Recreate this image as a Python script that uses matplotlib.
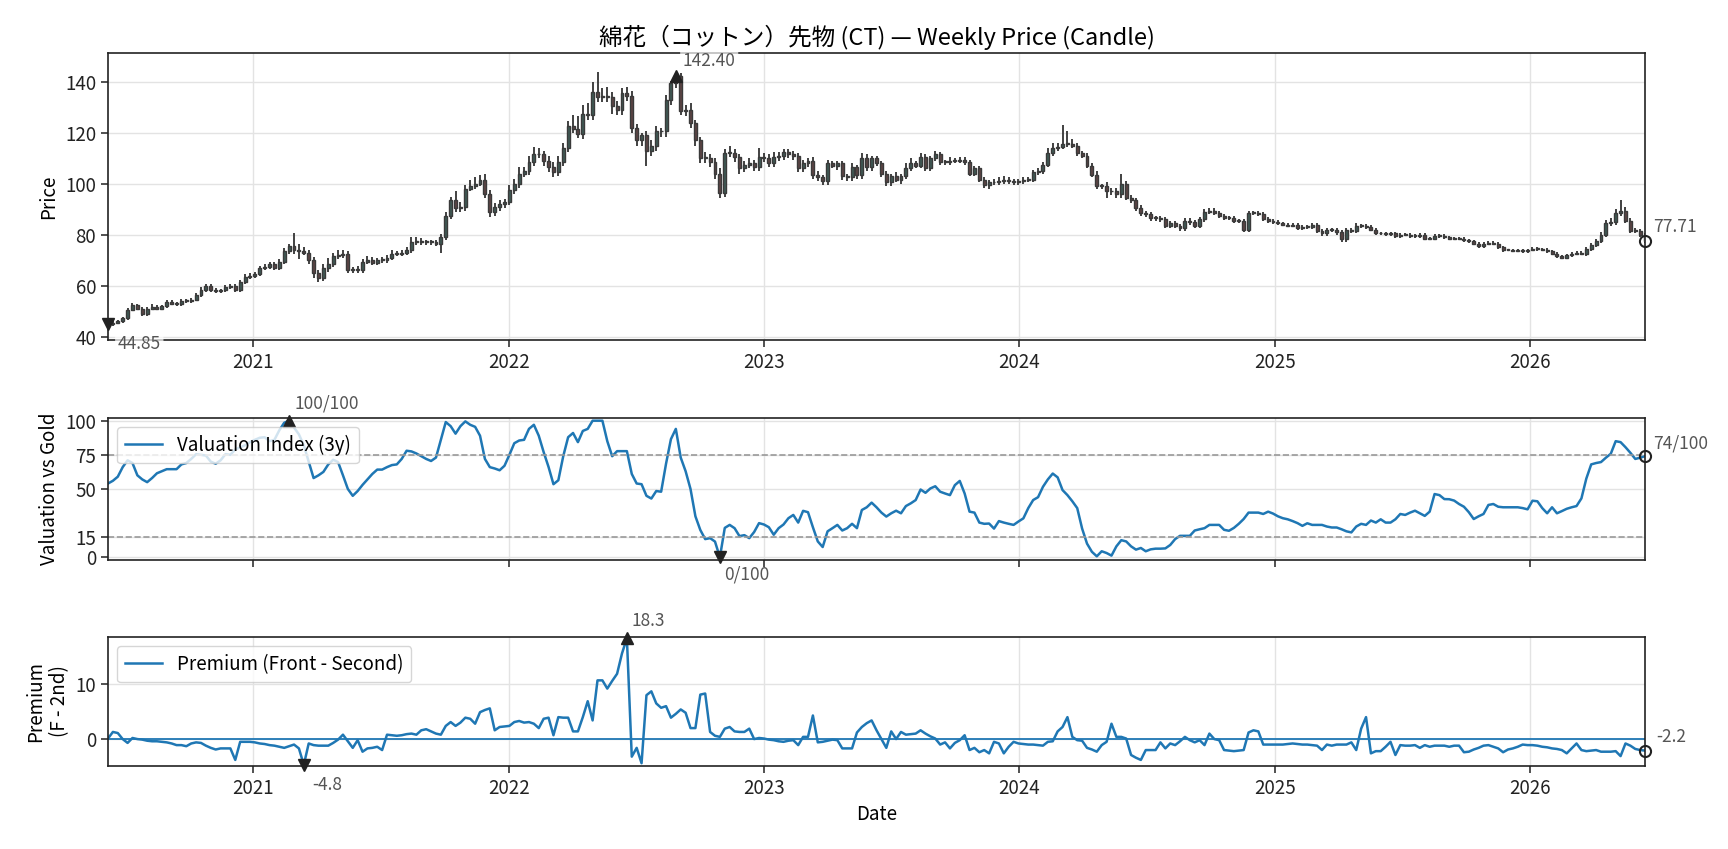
import numpy as np
import pandas as pd
import matplotlib
matplotlib.use("Agg")
import matplotlib.pyplot as plt
import matplotlib.dates as mdates
from matplotlib.patches import Rectangle

plt.rcParams['font.family'] = ['Noto Sans CJK JP', 'DejaVu Sans']

# ---------------- data ----------------
start_date = "2020-06-07"

close = [
    44.85, 45.5, 46.0, 47.2, 50.5, 52.5, 51.0, 48.8, 51.0, 51.5,
    51.0, 52.0, 53.5, 53.0, 52.8, 54.0, 54.0, 54.5, 56.5, 58.5,
    59.8, 58.5, 58.0, 58.2, 59.5, 59.8, 58.5, 61.5, 63.5, 64.0,
    64.5, 67.0, 67.5, 68.5, 67.0, 69.5, 73.5, 75.5, 74.0, 73.5,
    73.0, 70.0, 65.0, 63.0, 67.0, 68.5, 71.5, 72.0, 72.5, 66.0,
    66.5, 66.0, 69.5, 70.0, 69.0, 70.0, 70.0, 71.0, 72.5, 72.5,
    73.0, 74.0, 77.0, 77.5, 77.0, 77.0, 77.0, 76.5, 79.0, 87.5,
    93.5, 90.5, 91.0, 98.0, 99.0, 100.0, 101.5, 96.0, 89.0, 91.0,
    92.0, 93.0, 97.5, 100.0, 104.0, 105.0, 108.5, 111.5, 111.5, 109.0,
    106.5, 104.5, 108.5, 114.0, 122.5, 121.5, 119.5, 127.5, 127.0, 136.0,
    134.0, 134.5, 134.0, 130.5, 129.0, 135.5, 134.5, 122.0, 117.0, 119.0,
    113.0, 115.0, 120.5, 120.5, 133.0, 139.5, 142.4, 128.5, 129.0, 124.0,
    117.0, 110.0, 110.0, 108.5, 104.0, 96.5, 112.0, 112.0, 110.5, 106.0,
    107.5, 108.0, 106.5, 110.5, 110.0, 108.0, 110.5, 111.0, 112.5, 111.5,
    111.0, 106.0, 108.0, 109.0, 103.5, 102.5, 101.0, 108.0, 107.0, 108.0,
    103.0, 102.5, 106.5, 103.5, 110.0, 106.5, 110.0, 108.0, 104.0, 100.5,
    103.0, 101.5, 103.0, 106.0, 108.0, 107.0, 110.5, 106.0, 110.0, 111.5,
    108.5, 108.5, 109.0, 109.0, 109.5, 108.5, 104.0, 106.0, 101.5, 99.5,
    100.5, 100.5, 101.0, 101.5, 101.0, 100.5, 101.0, 101.5, 101.5, 104.5,
    105.0, 107.5, 112.0, 114.0, 114.5, 115.5, 115.5, 115.0, 112.0, 111.0,
    107.0, 103.5, 99.0, 99.0, 97.0, 97.0, 96.0, 100.0, 94.5, 93.5,
    90.5, 88.5, 88.0, 86.5, 86.5, 86.0, 83.5, 84.5, 83.5, 82.5,
    85.5, 85.0, 83.5, 86.0, 89.0, 89.5, 88.5, 87.5, 86.5, 86.5,
    85.5, 85.5, 82.0, 88.5, 88.5, 88.0, 86.0, 85.5, 85.0, 84.5,
    84.0, 83.5, 84.0, 82.5, 83.0, 83.0, 84.0, 81.5, 80.5, 82.0,
    82.0, 81.0, 78.5, 82.0, 81.5, 83.5, 83.5, 83.0, 82.0, 80.5,
    80.5, 80.3, 80.5, 79.5, 80.0, 80.0, 79.5, 79.5, 80.0, 78.5,
    78.5, 79.5, 79.5, 79.0, 78.5, 78.5, 78.5, 77.8, 77.5, 76.5,
    75.5, 76.5, 76.8, 76.5, 75.0, 74.0, 74.0, 73.8, 73.8, 73.5,
    74.0, 74.5, 74.3, 74.2, 73.5, 72.5, 71.5, 71.0, 72.0, 72.5,
    73.0, 72.5, 74.5, 76.0, 77.5, 80.0, 84.5, 85.0, 88.5, 89.5,
    85.5, 81.5, 81.5, 80.0, 77.71,
]
first_open = 45.2

wick_up = [
    0.4, 0.5, 0.6, 0.5, 0.8, 0.6, 0.5, 0.8, 0.6, 1.2,
    0.8, 0.6, 0.8, 0.9, 0.6, 0.7, 0.8, 0.6, 0.7, 0.9,
    1.0, 0.8, 0.7, 0.6, 0.8, 0.7, 0.9, 0.8, 1.0, 0.8,
    1.0, 0.9, 1.2, 0.9, 0.8, 1.0, 1.2, 1.0, 5.0, 2.5,
    1.5, 1.0, 1.2, 1.0, 1.5, 2.5, 1.5, 2.0, 1.5, 1.2,
    0.8, 1.2, 1.0, 1.5, 1.2, 1.0, 1.2, 1.0, 1.5, 1.2,
    1.0, 1.2, 2.0, 1.5, 1.2, 1.0, 1.0, 0.8, 1.2, 1.5,
    1.5, 3.5, 2.0, 1.5, 2.5, 2.5, 2.0, 2.5, 1.5, 1.5,
    1.5, 1.2, 2.0, 2.0, 2.5, 1.5, 2.5, 3.0, 2.5, 1.5,
    2.0, 2.0, 2.5, 2.0, 2.0, 4.5, 5.0, 3.5, 4.0, 4.0,
    8.0, 3.0, 3.5, 2.0, 2.0, 2.0, 2.5, 2.0, 1.5, 1.0,
    1.5, 2.0, 2.0, 1.5, 2.0, 1.0, 1.0, 1.0, 2.0, 2.5,
    1.0, 1.5, 2.5, 1.5, 1.5, 2.0, 1.5, 3.0, 1.5, 1.0,
    1.5, 2.0, 1.5, 3.5, 1.5, 1.5, 2.0, 1.5, 1.0, 1.0,
    1.5, 1.0, 1.5, 1.0, 1.5, 1.5, 1.0, 1.5, 1.0, 1.0,
    1.0, 1.0, 1.5, 1.0, 2.0, 1.5, 1.0, 1.0, 1.0, 1.0,
    1.0, 1.5, 1.0, 2.0, 2.0, 1.0, 1.5, 1.0, 1.0, 1.5,
    1.0, 1.0, 1.5, 1.0, 1.0, 1.0, 1.0, 1.0, 1.0, 1.0,
    1.0, 1.5, 1.5, 1.5, 1.0, 1.0, 1.0, 1.0, 1.0, 1.0,
    1.0, 1.0, 2.0, 2.0, 1.5, 7.5, 5.0, 2.0, 1.0, 1.0,
    1.0, 1.0, 1.5, 1.0, 1.5, 1.5, 1.5, 4.0, 1.0, 1.0,
    1.0, 1.0, 1.0, 1.0, 1.0, 1.0, 1.0, 1.0, 1.0, 0.8,
    1.0, 1.0, 0.8, 1.0, 1.0, 0.8, 0.8, 0.8, 0.8, 0.8,
    0.8, 0.8, 0.8, 1.0, 0.8, 0.8, 0.8, 0.8, 0.8, 0.8,
    0.6, 0.6, 0.6, 0.8, 0.8, 0.8, 0.8, 0.8, 0.8, 0.8,
    0.8, 0.8, 0.8, 0.8, 0.8, 1.0, 0.8, 0.8, 0.8, 0.6,
    0.6, 0.6, 0.6, 0.6, 0.6, 0.6, 0.6, 0.6, 0.6, 0.6,
    0.6, 0.6, 0.6, 0.6, 0.6, 0.6, 0.6, 0.6, 0.6, 0.6,
    0.6, 0.6, 0.6, 0.6, 0.6, 0.6, 0.5, 0.5, 0.5, 0.5,
    0.5, 0.5, 0.5, 0.5, 0.5, 0.5, 0.6, 0.6, 0.6, 0.6,
    0.6, 0.6, 0.8, 0.8, 1.0, 1.0, 1.2, 1.5, 1.5, 4.0,
    1.5, 1.0, 1.0, 0.8, 0.8,
]

wick_dn = [
    0.5, 0.5, 0.5, 0.5, 0.6, 0.6, 0.6, 0.8, 0.6, 0.6,
    0.6, 0.6, 0.6, 0.6, 0.8, 0.6, 0.6, 0.6, 0.6, 0.8,
    0.8, 0.8, 0.8, 0.8, 0.8, 0.8, 0.8, 0.8, 0.8, 0.8,
    0.8, 0.8, 0.8, 0.8, 0.8, 0.8, 1.0, 1.0, 1.5, 3.0,
    1.0, 1.5, 2.0, 1.5, 1.2, 1.5, 1.0, 1.0, 1.0, 1.0,
    1.0, 1.0, 1.0, 1.0, 1.0, 1.0, 1.0, 1.0, 1.0, 1.0,
    1.0, 1.0, 1.0, 1.0, 1.0, 1.0, 1.0, 1.0, 3.5, 1.0,
    1.5, 1.5, 1.5, 1.5, 1.0, 1.0, 1.0, 1.5, 2.0, 1.5,
    1.5, 1.5, 1.5, 1.5, 1.5, 1.5, 1.5, 1.5, 1.5, 2.0,
    2.0, 2.0, 1.5, 1.5, 1.5, 1.5, 1.5, 2.0, 2.0, 2.0,
    2.0, 2.0, 2.0, 3.0, 2.0, 2.0, 2.0, 2.0, 2.0, 2.0,
    6.0, 2.0, 2.0, 2.0, 2.0, 2.0, 2.0, 1.5, 2.0, 2.0,
    2.0, 2.0, 2.0, 2.0, 2.0, 2.0, 1.5, 1.5, 2.0, 2.0,
    1.5, 1.5, 1.5, 1.5, 1.5, 1.5, 1.5, 1.5, 1.5, 1.5,
    1.5, 1.5, 1.5, 1.5, 1.5, 1.5, 1.5, 1.5, 1.0, 1.5,
    1.5, 1.5, 1.5, 1.5, 1.5, 1.5, 1.5, 1.0, 1.5, 1.5,
    1.5, 1.0, 1.5, 1.0, 1.0, 1.0, 1.0, 1.0, 1.0, 1.0,
    1.0, 1.0, 1.0, 1.0, 1.0, 1.0, 1.0, 1.0, 1.0, 1.0,
    1.5, 1.0, 1.0, 1.0, 1.0, 1.0, 1.0, 1.0, 1.0, 1.0,
    1.0, 1.0, 1.0, 1.0, 1.0, 1.0, 1.0, 1.0, 1.0, 1.0,
    1.0, 1.0, 1.0, 1.0, 2.5, 1.5, 1.5, 1.5, 1.0, 1.0,
    1.0, 1.0, 1.0, 1.0, 1.0, 1.0, 1.0, 1.0, 1.0, 1.0,
    1.0, 1.0, 1.0, 1.0, 1.0, 0.8, 0.8, 0.8, 0.8, 0.8,
    0.8, 0.8, 1.0, 1.0, 0.8, 0.8, 0.8, 0.8, 0.8, 0.8,
    0.6, 0.6, 0.6, 0.8, 0.8, 0.8, 0.8, 0.8, 0.8, 0.8,
    0.8, 1.0, 1.5, 1.5, 0.8, 0.8, 0.8, 0.8, 0.6, 0.6,
    0.6, 0.6, 0.6, 0.6, 0.6, 0.6, 0.6, 0.6, 0.6, 0.6,
    0.6, 0.6, 0.6, 0.6, 0.6, 0.6, 0.6, 0.6, 0.6, 0.6,
    0.6, 0.6, 0.6, 0.6, 0.6, 0.6, 0.5, 0.5, 0.5, 0.5,
    0.5, 0.5, 0.5, 0.5, 0.5, 0.5, 0.6, 0.6, 0.6, 0.6,
    0.6, 0.6, 0.8, 0.8, 0.8, 0.8, 0.8, 1.0, 1.0, 1.0,
    1.0, 1.0, 1.0, 0.8, 0.8,
]

valuation = [
    54, 56, 59, 66, 71, 69, 60, 57, 55, 58,
    61.5, 63, 64.5, 64.5, 64.5, 68, 69, 72, 75.5, 75,
    74.5, 70, 68.5, 71, 75.5, 75, 79, 80.5, 82, 84.3,
    86, 87.5, 87.9, 85, 86, 93, 98.5, 100, 95, 90,
    82, 70, 58, 60, 62.5, 68, 71.4, 69.7, 60, 50,
    45, 48.5, 53, 57, 61, 64.2, 64.2, 66, 67.5, 68,
    72, 78, 77.5, 76, 74, 72, 70.5, 73, 86, 99,
    96, 90.5, 96, 99.5, 97, 95.5, 89, 72, 66, 65,
    63.7, 67, 75, 83.5, 85.5, 86, 94, 97, 89, 77,
    66.1, 53.5, 56.4, 74, 87.9, 91, 84.3, 92.5, 94, 100,
    100, 100, 85, 74, 77.7, 77.7, 77.7, 61, 54, 53.5,
    45, 43, 48.5, 48, 68.5, 86.5, 94, 73, 63, 50,
    30, 20, 13.3, 14, 11.5, 0, 21.5, 23.7, 21.3, 15.5,
    16.2, 14, 18.5, 25, 24, 22, 16.5, 21.3, 24, 28.6,
    31, 25.4, 34, 33, 22, 11.6, 7.5, 19, 21.3, 23.7,
    19.6, 21.3, 24.5, 21.3, 34.6, 36.6, 40, 36.6, 32.7, 29.8,
    32.2, 34.1, 32.2, 37.5, 39.5, 41.9, 49.6, 47.2, 50.4, 52,
    48, 46.7, 45.5, 52.8, 55.9, 46.7, 33.4, 32.7, 25.4, 24.5,
    24.7, 21, 26.5, 25.4, 24.5, 23.7, 26.2, 28.5, 36, 41.9,
    44, 51.6, 57, 61.3, 58.5, 49.2, 45.5, 41, 36, 21,
    10, 4, 0.7, 4.4, 3.1, 1.2, 8, 12.5, 11.6, 8,
    5.6, 6.8, 4.4, 5.8, 6.3, 6.3, 6.5, 9, 13.3, 15.7,
    15.7, 15.7, 19.6, 20.5, 21.3, 23.7, 23.7, 23.7, 20.1, 19.4,
    21.5, 24.5, 28, 32.7, 32.7, 32.7, 31.7, 33.4, 32, 30,
    28.6, 27.8, 26.5, 25, 23, 24.9, 23.7, 23.7, 23.7, 22.5,
    21.8, 21.8, 20.5, 19, 18.2, 22.5, 24.5, 23.7, 26.9, 25.4,
    27.8, 25.4, 25.4, 27.8, 31.7, 31, 32.7, 34.1, 32.2, 30.3,
    33.4, 46.3, 45.5, 42.6, 42.5, 41.5, 39, 37, 33, 28,
    30, 31.7, 38.3, 39, 37, 36.6, 36.6, 36.6, 36.6, 36,
    35.1, 41.4, 41, 36, 32.2, 36.6, 32.2, 33.8, 35.5, 36.6,
    37.5, 43.1, 57.6, 68, 69, 69.7, 72.9, 75.8, 85, 84.3,
    80.6, 76.5, 72, 72.9, 74,
]

premium = [
    0.0, 1.2, 1.0, -0.1, -0.8, 0.1, -0.1, -0.2, -0.4, -0.5,
    -0.5, -0.6, -0.7, -0.9, -1.2, -1.2, -1.4, -0.9, -0.7, -0.8,
    -1.3, -1.7, -2.0, -1.8, -1.8, -1.8, -3.9, -0.6, -0.6, -0.6,
    -0.7, -0.9, -1.0, -1.2, -1.3, -1.5, -1.7, -1.4, -1.1, -1.8,
    -4.8, -0.9, -1.2, -1.3, -1.3, -1.3, -0.8, -0.2, 0.7, -0.5,
    -1.7, -0.3, -2.4, -1.8, -1.7, -1.5, -2.1, 0.7, 0.6, 0.5,
    0.6, 0.8, 0.9, 0.7, 1.5, 1.7, 1.3, 0.9, 0.7, 2.3,
    3.0, 2.3, 2.9, 3.8, 3.6, 2.7, 4.8, 5.2, 5.5, 1.5,
    2.1, 2.2, 2.3, 3.0, 3.2, 2.9, 3.0, 2.7, 1.9, 3.6,
    3.8, 0.6, 3.9, 3.8, 3.8, 1.3, 1.3, 3.9, 6.8, 3.3,
    10.6, 10.6, 9.1, 10.5, 11.8, 15.5, 18.3, -3.3, -1.7, -4.5,
    7.9, 8.6, 6.4, 5.6, 5.9, 3.8, 4.5, 5.3, 4.7, 1.9,
    1.9, 8.0, 8.2, 1.2, 0.5, 0.3, 1.8, 2.1, 1.3, 1.2,
    1.2, 1.8, -0.1, 0.1, 0.0, -0.2, -0.3, -0.5, -0.6, -0.4,
    -0.3, -1.2, 0.3, 0.3, 4.2, -0.7, -0.6, -0.4, -0.2, -0.3,
    -1.8, -1.8, -1.8, 1.1, 2.1, 2.8, 3.3, 1.5, -0.1, -1.7,
    1.3, -0.1, 1.2, 0.7, 0.8, 0.9, 1.5, 0.9, 0.4, 0.0,
    -1.1, -0.7, -1.8, -0.8, -0.3, 0.6, -2.1, -1.7, -2.5, -2.1,
    -2.7, -0.6, -0.9, -2.7, -1.5, -0.6, -0.9, -1.0, -1.1, -1.1,
    -1.2, -1.3, -0.6, -0.5, 1.3, 2.1, 3.9, 0.3, -0.3, -0.4,
    -1.7, -2.0, -2.4, -1.2, -0.6, 2.7, 0.3, 0.3, 0.0, -3.0,
    -3.5, -3.9, -2.1, -2.1, -2.1, -0.7, -1.8, -0.9, -1.2, -0.5,
    0.3, -0.3, -0.7, -0.3, -1.2, 0.9, -0.1, -0.3, -2.1, -2.2,
    -2.3, -2.2, -2.1, 1.1, 1.5, 1.3, -1.1, -1.1, -1.1, -1.1,
    -1.1, -1.0, -0.9, -1.0, -1.1, -1.1, -1.2, -1.3, -2.1, -1.1,
    -1.3, -1.1, -1.1, -1.1, -0.7, -2.1, 1.8, 3.9, -2.7, -2.3,
    -2.3, -1.5, -0.6, -3.0, -1.2, -1.3, -1.3, -1.2, -1.7, -1.2,
    -1.5, -1.3, -1.3, -1.3, -1.5, -1.3, -1.3, -2.5, -2.4, -2.0,
    -1.7, -1.3, -1.2, -1.5, -1.8, -2.5, -2.0, -1.8, -1.5, -1.1,
    -1.2, -1.2, -1.3, -1.5, -1.6, -1.8, -1.9, -2.1, -2.7, -1.8,
    -0.9, -2.1, -2.3, -2.2, -2.1, -2.4, -2.4, -2.4, -2.3, -3.2,
    -0.9, -1.3, -1.9, -2.1, -2.2,
]

title = "綿花（コットン）先物 (CT) — Weekly Price (Candle)"

# ---------------- derived ----------------
n = len(close)
assert len(wick_up) == n and len(wick_dn) == n and len(valuation) == n and len(premium) == n
dates = pd.date_range(start_date, periods=n, freq="7D")
close_a = np.array(close, dtype=float)
open_a = np.concatenate([[first_open], close_a[:-1]])
high_a = np.maximum(open_a, close_a) + np.array(wick_up)
low_a = np.minimum(open_a, close_a) - np.array(wick_dn)
xd = mdates.date2num(dates)
val_a = np.array(valuation, dtype=float)
prem_a = np.array(premium, dtype=float)

# ---------------- figure ----------------
FS = 13.5
AFS = 12.5
fig = plt.figure(figsize=(17.28, 8.49), dpi=100)
L, W = 0.0625, 0.8895
ax1 = fig.add_axes([L, 0.5995, W, 0.3381])
ax2 = fig.add_axes([L, 0.3404, W, 0.1673], sharex=ax1)
ax3 = fig.add_axes([L, 0.0978, W, 0.1519], sharex=ax1)

GRID = "#e3e3e3"
TXT = "#555555"
for ax in (ax1, ax2, ax3):
    ax.grid(True, color=GRID, linewidth=1.0)
    ax.set_axisbelow(True)
    for s in ax.spines.values():
        s.set_color("#222222")
        s.set_linewidth(1.2)
    ax.tick_params(labelsize=FS, colors="#222222", length=5, width=1.1)
    ax.xaxis.set_major_locator(mdates.YearLocator())
    ax.xaxis.set_major_formatter(mdates.DateFormatter("%Y"))

# candles
bw = 4.2
for i in range(n):
    up = close_a[i] >= open_a[i]
    fc = "#3f5a55" if up else "#5c4444"
    ax1.vlines(xd[i], low_a[i], high_a[i], color="#333333", linewidth=1.3, zorder=2)
    lo = min(open_a[i], close_a[i])
    h = max(abs(close_a[i] - open_a[i]), 0.35)
    ax1.add_patch(Rectangle((xd[i] - bw / 2, lo), bw, h, facecolor=fc,
                            edgecolor="#3a3a3a", linewidth=1.0, zorder=3))

ax1.set_xlim(xd[0], xd[-1])
ax1.set_ylim(38.7, 151.3)
ax1.set_yticks([40, 60, 80, 100, 120, 140])
ax1.set_ylabel("Price", fontsize=FS)
ax1.set_title(title, fontsize=17)
ax1.tick_params(labelbottom=True)

imax = int(np.argmax(close_a)); imin = int(np.argmin(close_a))
bbox = dict(boxstyle="round,pad=0.15", fc="white", ec="none", alpha=0.7)
ax1.plot(xd[imax], close_a[imax], marker="^", color="#222222", markersize=8, zorder=5, clip_on=False)
ax1.annotate(f"{close_a[imax]:.2f}", (xd[imax], close_a[imax]), xytext=(5, 4),
             textcoords="offset points", fontsize=AFS, color=TXT, ha="left", va="bottom", bbox=bbox)
ax1.plot(xd[imin], close_a[imin], marker="v", color="#222222", markersize=8, zorder=5, clip_on=False)
ax1.annotate(f"{close_a[imin]:.2f}", (xd[imin], close_a[imin]), xytext=(7, -8),
             textcoords="offset points", fontsize=AFS, color=TXT, ha="left", va="top", bbox=bbox)
ax1.plot(xd[-1], close_a[-1], marker="o", mfc="none", mec="#222222", mew=1.5, markersize=8, zorder=5, clip_on=False)
ax1.annotate(f"{close_a[-1]:.2f}", (xd[-1], close_a[-1]), xytext=(6, 3),
             textcoords="offset points", fontsize=AFS, color=TXT, ha="left", va="bottom")

# valuation
ax2.plot(xd, val_a, color="#1f77b4", linewidth=1.8, label="Valuation Index (3y)")
ax2.axhline(75, color="#999999", linestyle="--", linewidth=1.2)
ax2.axhline(15, color="#999999", linestyle="--", linewidth=1.2)
ax2.set_ylim(-2, 102)
ax2.set_yticks([0, 15, 50, 75, 100])
ax2.set_ylabel("Valuation vs Gold", fontsize=FS)
ax2.tick_params(labelbottom=False)
vmax = int(np.argmax(val_a)); vmin = int(np.argmin(val_a))
ax2.plot(xd[vmax], val_a[vmax], marker="^", color="#222222", markersize=8, zorder=5, clip_on=False)
ax2.annotate(f"{val_a[vmax]:.0f}/100", (xd[vmax], val_a[vmax]), xytext=(4, 6),
             textcoords="offset points", fontsize=AFS, color=TXT, ha="left", va="bottom")
ax2.plot(xd[vmin], val_a[vmin], marker="v", color="#222222", markersize=8, zorder=5, clip_on=False)
ax2.annotate(f"{val_a[vmin]:.0f}/100", (xd[vmin], val_a[vmin]), xytext=(3, -6),
             textcoords="offset points", fontsize=AFS, color=TXT, ha="left", va="top")
ax2.plot(xd[-1], val_a[-1], marker="o", mfc="none", mec="#222222", mew=1.5, markersize=8, zorder=5, clip_on=False)
ax2.annotate(f"{val_a[-1]:.0f}/100", (xd[-1], val_a[-1]), xytext=(6, 3),
             textcoords="offset points", fontsize=AFS, color=TXT, ha="left", va="bottom")
ax2.legend(loc="upper left", fontsize=FS, framealpha=0.8)

# premium
ax3.plot(xd, prem_a, color="#1f77b4", linewidth=1.8, label="Premium (Front - Second)")
ax3.axhline(0, color="#1f77b4", linewidth=1.3)
ax3.set_ylim(-5.0, 18.5)
ax3.set_yticks([0, 10])
ax3.set_ylabel("Premium\n(F - 2nd)", fontsize=FS)
ax3.set_xlabel("Date", fontsize=FS)
pmax = int(np.argmax(prem_a)); pmin = int(np.argmin(prem_a))
ax3.plot(xd[pmax], prem_a[pmax], marker="^", color="#222222", markersize=8, zorder=5, clip_on=False)
ax3.annotate(f"{prem_a[pmax]:.1f}", (xd[pmax], prem_a[pmax]), xytext=(3, 6),
             textcoords="offset points", fontsize=AFS, color=TXT, ha="left", va="bottom")
ax3.plot(xd[pmin], prem_a[pmin], marker="v", color="#222222", markersize=8, zorder=5, clip_on=False)
ax3.annotate(f"{prem_a[pmin]:.1f}", (xd[pmin], prem_a[pmin]), xytext=(6, -8),
             textcoords="offset points", fontsize=AFS, color=TXT, ha="left", va="top")
ax3.plot(xd[-1], prem_a[-1], marker="o", mfc="none", mec="#222222", mew=1.5, markersize=8, zorder=5, clip_on=False)
ax3.annotate(f"{prem_a[-1]:.1f}", (xd[-1], prem_a[-1]), xytext=(8, 3),
             textcoords="offset points", fontsize=AFS, color=TXT, ha="left", va="bottom")
ax3.legend(loc="upper left", fontsize=FS, framealpha=0.8)

fig.savefig("out.png", dpi=100)
